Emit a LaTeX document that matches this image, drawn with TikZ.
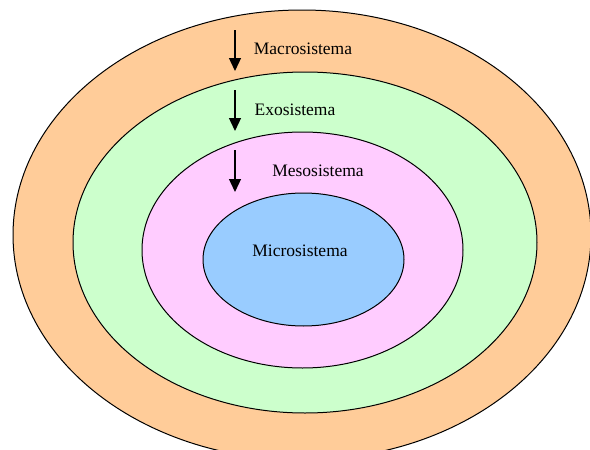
\documentclass[tikz,border=0pt]{standalone}
\usepackage{fontspec}
\setmainfont{Liberation Serif}
\usetikzlibrary{arrows.meta,shapes.geometric}
\definecolor{macroc}{HTML}{FFCC99}
\definecolor{exoc}{HTML}{CCFFCC}
\definecolor{mesoc}{HTML}{FFCCFF}
\definecolor{microc}{HTML}{99CCFF}
\begin{document}
\begin{tikzpicture}[x=1pt,y=-1pt,
  ring/.style={draw=black,line width=1pt},
  lbl/.style={font=\fontsize{17.5}{20}\selectfont,inner sep=0pt},
  down/.style={line width=1.3pt,-{Triangle[width=12pt,length=13pt]}}]
\useasboundingbox (0,0) rectangle (590,450);
\clip (0,0) rectangle (590,450);
\fill[white] (0,0) rectangle (590,450);
\draw[ring,fill=macroc] (302,235) ellipse [x radius=289,y radius=225];
\draw[ring,fill=exoc] (305,242.5) ellipse [x radius=232,y radius=170.5];
\draw[ring,fill=mesoc] (302.5,250) ellipse [x radius=160.5,y radius=118];
\draw[ring,fill=microc] (303.5,259.5) ellipse [x radius=100.5,y radius=66.5];
\node[lbl] (macro) at (303,49) {Macrosistema};
\node[lbl] (exo) at (295,110) {Exosistema};
\node[lbl] (meso) at (318,171) {Mesosistema};
\node[lbl] (micro) at (300,251) {Microsistema};
\coordinate (a1s) at (235,30); \coordinate (a1e) at (235,71);
\coordinate (a2s) at (235,90); \coordinate (a2e) at (235,131);
\coordinate (a3s) at (235,150); \coordinate (a3e) at (235,192);
\draw[down] (a1s) -- (a1e);
\draw[down] (a2s) -- (a2e);
\draw[down] (a3s) -- (a3e);
\end{tikzpicture}
\end{document}
